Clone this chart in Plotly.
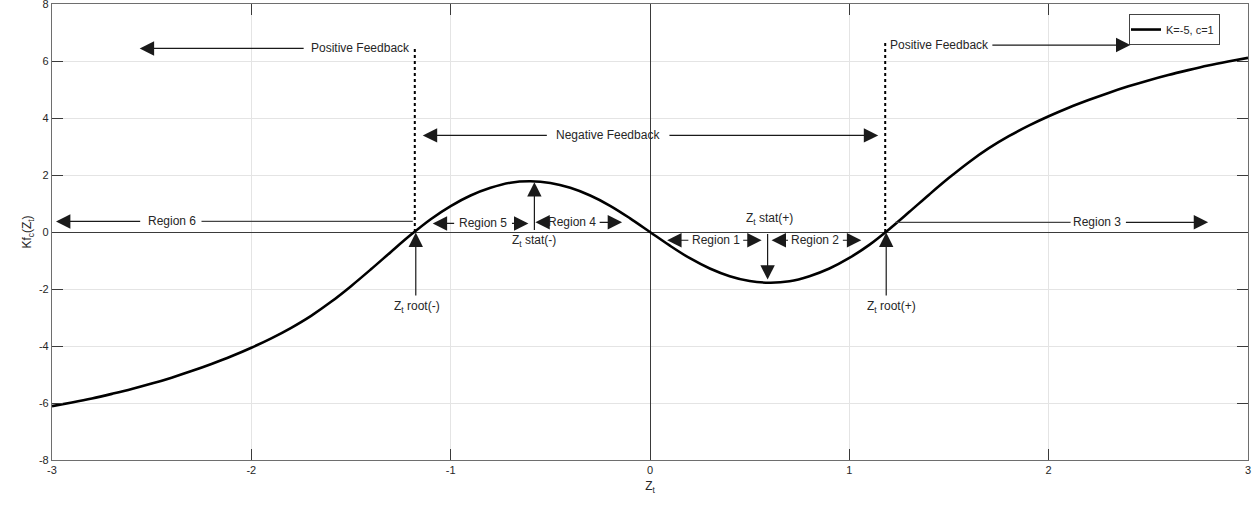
import plotly.graph_objects as go

# ---- data ----
z_values = [-3.0, -2.9, -2.8, -2.7, -2.6, -2.5, -2.4, -2.3, -2.2, -2.1,
            -2.0, -1.9, -1.8, -1.7, -1.6, -1.5, -1.4, -1.3, -1.2, -1.1,
            -1.0, -0.9, -0.8, -0.7, -0.6, -0.5, -0.4, -0.3, -0.2, -0.1,
            0.0, 0.1, 0.2, 0.3, 0.4, 0.5, 0.6, 0.7, 0.8, 0.9,
            1.0, 1.1, 1.2, 1.3, 1.4, 1.5, 1.6, 1.7, 1.8, 1.9,
            2.0, 2.1, 2.2, 2.3, 2.4, 2.5, 2.6, 2.7, 2.8, 2.9, 3.0]
kf_values = [-6.11, -5.98, -5.84, -5.68, -5.51, -5.32, -5.11, -4.88, -4.63, -4.36,
             -4.06, -3.73, -3.36, -2.94, -2.45, -1.90, -1.31, -0.70, -0.10, 0.45,
             0.91, 1.28, 1.55, 1.73, 1.78, 1.72, 1.55, 1.28, 0.92, 0.48,
             0.0, -0.48, -0.92, -1.28, -1.55, -1.72, -1.78, -1.73, -1.55, -1.28,
             -0.91, -0.45, 0.10, 0.70, 1.31, 1.90, 2.45, 2.94, 3.36, 3.73,
             4.06, 4.36, 4.63, 4.88, 5.11, 5.32, 5.51, 5.68, 5.84, 5.98, 6.11]
series_name = "K=-5, c=1"
x_ticks = [-3, -2, -1, 0, 1, 2, 3]
y_ticks = [-8, -6, -4, -2, 0, 2, 4, 6, 8]

root_neg, root_pos = -1.18, 1.18
stat_neg, stat_pos = -0.58, 0.59
stat_neg_val, stat_pos_val = 1.75, -1.67

FONT = "Liberation Sans, Arial, sans-serif"
TXT = "#262626"
ARW = "#1a1a1a"

fig = go.Figure()
fig.add_trace(go.Scatter(x=z_values, y=kf_values, mode="lines", name=series_name,
                         line=dict(color="black", width=2.6, shape="spline")))

# dotted boundaries
fig.add_shape(type="line", x0=root_neg, x1=root_neg, y0=0, y1=6.44,
              line=dict(color="black", width=2, dash="dot"))
fig.add_shape(type="line", x0=root_pos, x1=root_pos, y0=0, y1=6.67,
              line=dict(color="black", width=2, dash="dot"))

def seg(x0, x1, y):
    fig.add_shape(type="line", x0=x0, x1=x1, y0=y, y1=y,
                  line=dict(color="#444", width=1.2))

def arrow(xt, yt, xh, yh):
    fig.add_annotation(x=xh, y=yh, ax=xt, ay=yt, xref="x", yref="y",
                       axref="x", ayref="y", text=" ", showarrow=True,
                       arrowhead=2, arrowsize=2.4, arrowwidth=1.2,
                       arrowcolor=ARW, standoff=0, startstandoff=0,
                       font=dict(size=1))

def label(x, y, t, xanchor="center"):
    fig.add_annotation(x=x, y=y, xref="x", yref="y", text=t, showarrow=False,
                       xanchor=xanchor, yanchor="middle",
                       font=dict(family=FONT, size=12, color=TXT))

# Positive feedback (left)
label(-1.45, 6.44, "Positive Feedback")
arrow(-1.73, 6.44, -2.56, 6.44)
# Positive feedback (right)
label(1.45, 6.56, "Positive Feedback")
arrow(1.71, 6.56, 2.41, 6.56)
# Negative feedback
label(-0.21, 3.39, "Negative Feedback")
arrow(-0.51, 3.39, -1.14, 3.39)
arrow(0.09, 3.39, 1.145, 3.39)
# Region 6
label(-2.40, 0.37, "Region 6")
arrow(-2.55, 0.37, -2.98, 0.37)
seg(-2.25, -1.19, 0.37)
# Region 5
label(-0.838, 0.30, "Region 5")
arrow(-0.975, 0.30, -1.09, 0.30)
arrow(-0.70, 0.30, -0.61, 0.30)
# Region 4
label(-0.39, 0.34, "Region 4")
arrow(-0.515, 0.34, -0.575, 0.34)
arrow(-0.26, 0.34, -0.14, 0.34)
# Region 1
label(0.33, -0.29, "Region 1")
arrow(0.20, -0.29, 0.086, -0.29)
arrow(0.46, -0.29, 0.56, -0.29)
# Region 2
label(0.83, -0.29, "Region 2")
arrow(0.70, -0.29, 0.61, -0.29)
arrow(0.96, -0.29, 1.06, -0.29)
# Region 3
label(2.24, 0.34, "Region 3")
seg(1.23, 2.11, 0.34)
arrow(2.38, 0.34, 2.80, 0.34)

# stationary points
arrow(stat_neg, 0, stat_neg, stat_neg_val)
label(stat_neg, -0.32, "Z<sub>t</sub> stat(-)")
arrow(stat_pos, 0, stat_pos, stat_pos_val)
label(stat_pos + 0.01, 0.46, "Z<sub>t</sub> stat(+)")

# roots
arrow(-1.175, -2.3, -1.175, -0.02)
label(-1.17, -2.62, "Z<sub>t</sub> root(-)")
arrow(1.185, -2.3, 1.185, -0.02)
label(1.21, -2.62, "Z<sub>t</sub> root(+)")

axis_common = dict(showline=True, linecolor="#6e6e6e", linewidth=1.2, mirror="ticks",
                   ticks="inside", ticklen=11, tickcolor="#3a3a3a", tickwidth=1,
                   showgrid=True, gridcolor="#e4e4e4", gridwidth=1,
                   zeroline=True, zerolinecolor="#3a3a3a", zerolinewidth=1,
                   automargin=False, ticklabeloverflow="allow",
                   tickfont=dict(family=FONT, size=11, color=TXT))

fig.update_xaxes(range=[-3, 3], tickvals=x_ticks, ticktext=[str(v) for v in x_ticks],
                 title=dict(text="Z<sub>t</sub>", font=dict(family=FONT, size=12, color=TXT),
                            standoff=6),
                 **axis_common)
fig.update_yaxes(range=[-8, 8], tickvals=y_ticks, ticktext=[str(v) for v in y_ticks],
                 title=dict(text="Kf<sub>c</sub>(Z<sub>t</sub>)",
                            font=dict(family=FONT, size=12, color=TXT), standoff=4),
                 **axis_common)

fig.update_layout(
    width=1254, height=505,
    margin=dict(l=52, r=6, t=4, b=45, autoexpand=False),
    plot_bgcolor="white", paper_bgcolor="white",
    showlegend=True,
    legend=dict(x=0.9005, y=0.978, xanchor="left", yanchor="top",
                bgcolor="white", bordercolor="#444", borderwidth=1,
                font=dict(family=FONT, size=11, color=TXT),
                itemwidth=30, tracegroupgap=0, indentation=-4),
)

fig.write_html("out.html", config={"displayModeBar": False},
               post_script="document.body.style.margin='0';document.body.style.overflow='hidden';")
